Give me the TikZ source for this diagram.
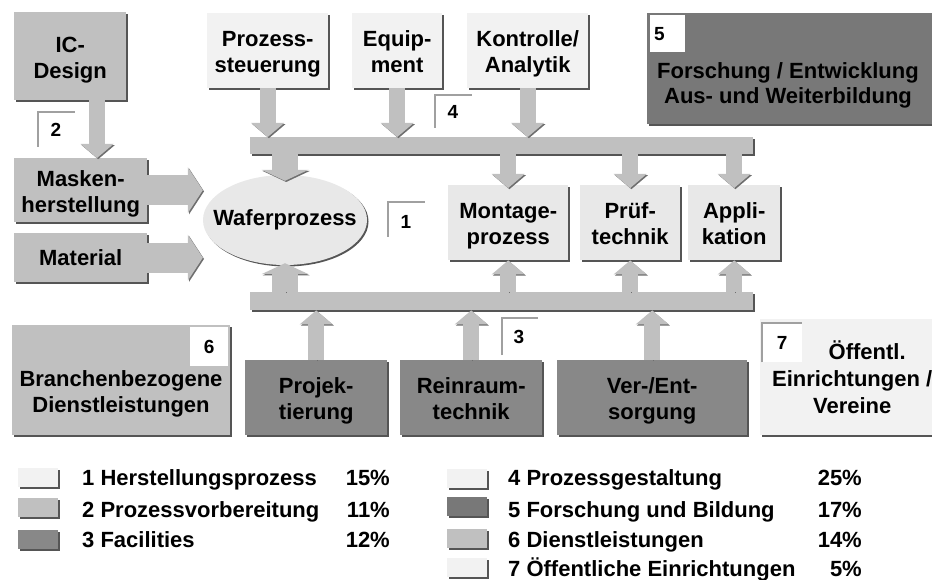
\documentclass[tikz,border=0pt]{standalone}
\usepackage{fontspec}
\setmainfont{Liberation Sans}
\usetikzlibrary{arrows.meta,positioning,shapes.geometric,shadows}
\definecolor{pale}{RGB}{242,242,242}
\definecolor{lite}{RGB}{232,232,232}
\definecolor{mid}{RGB}{192,192,192}
\definecolor{dim}{RGB}{136,136,136}
\definecolor{deep}{RGB}{120,120,120}
\definecolor{edge}{RGB}{85,85,85}
\definecolor{arredge}{RGB}{110,110,110}
\definecolor{tick}{RGB}{160,160,160}
% struts that keep two-line labels a little low, as in the original
\newcommand\topstrut{\rule{0pt}{24pt}}
\newcommand\botstrut{\rule[-6pt]{0pt}{6pt}}

\begin{document}
\begin{tikzpicture}[x=1pt, y=-1pt,
  font=\fontsize{22}{26}\selectfont\bfseries,
  box/.style={rectangle, align=center, inner sep=2pt, anchor=north west,
    drop shadow={shadow xshift=1.5pt, shadow yshift=-1.5pt, fill=edge, opacity=1}},
  plain/.style={rectangle, inner sep=0pt, anchor=north west,
    drop shadow={shadow xshift=1.5pt, shadow yshift=-1.5pt, fill=edge, opacity=1}},
  numbox/.style={rectangle, fill=white, anchor=north west, inner sep=0pt,
    font=\fontsize{19}{20}\selectfont\bfseries},
  num/.style={font=\fontsize{19}{20}\selectfont\bfseries},
  tk/.style={draw=tick, line width=1.5pt},
  barr/.style={draw=mid, line width=16pt, -{Triangle[width=33pt,length=14pt,line width=0pt]},
    preaction={draw=arredge, transform canvas={shift={(1.2pt,-1.2pt)}}}},
  harr/.style={barr, line width=30pt, -{Triangle[width=46pt,length=15pt,line width=0pt]}},
  warr/.style={barr, line width=26pt, -{Triangle[width=47pt,length=11pt,line width=0pt]}},
  sw/.style={plain, minimum width=40pt, minimum height=19pt},
  lt/.style={anchor=base west, inner sep=0pt},
  pc/.style={anchor=base east, inner sep=0pt},
]
\fill[white] (0,0) rectangle (932,580);
\useasboundingbox (0,0) rectangle (932,580);

% preparation (2)
\node[box, fill=mid, minimum width=112pt, minimum height=88pt] (ic) at (14,12) {\topstrut IC-\\Design\botstrut};
\node[box, fill=mid, minimum width=133pt, minimum height=64pt] (mask) at (14,158) {\topstrut Masken-\\herstellung\botstrut};
\node[box, fill=mid, minimum width=133pt, minimum height=49pt] (mat) at (14,233) {Material};

% process design (4)
\node[box, fill=pale, minimum width=121pt, minimum height=75pt] (pst) at (207,13) {\topstrut Prozess-\\steuerung\botstrut};
\node[box, fill=pale, minimum width=90pt, minimum height=75pt] (equ) at (352,13) {\topstrut Equip-\\ment\botstrut};
\node[box, fill=pale, minimum width=121pt, minimum height=75pt] (kon) at (467,13) {\topstrut Kontrolle/\\Analytik\botstrut};

% research (5)
\node[plain, fill=deep, minimum width=285pt, minimum height=111pt] (fe) at (647,13) {};
\node[align=center, font=\fontsize{22}{25}\selectfont\bfseries] (fetxt) at (788,85) {Forschung / Entwicklung\\Aus- und Weiterbildung};
\node[numbox, minimum width=35pt, minimum height=37pt, text width=27pt, align=left, inner xsep=4pt] (n5) at (650,15) {5};

% manufacturing (1)
\node[ellipse, fill=lite, minimum width=164pt, minimum height=90pt, inner sep=0pt,
  drop shadow={shadow xshift=1.5pt, shadow yshift=-1.5pt, fill=edge, opacity=1}] (wafer) at (285,220) {};
\node (wtxt) at (wafer.center) {Waferprozess};
\node[box, fill=lite, minimum width=120pt, minimum height=75pt] (mon) at (448,185) {\topstrut Montage-\\prozess\botstrut};
\node[box, fill=lite, minimum width=100pt, minimum height=75pt] (pru) at (580,185) {\topstrut Prüf-\\technik\botstrut};
\node[box, fill=lite, minimum width=92pt, minimum height=75pt] (app) at (688,185) {\topstrut Appli-\\kation\botstrut};

% bars
\node[plain, fill=mid, minimum width=503pt, minimum height=17pt] (topbar) at (250,137) {};
\node[plain, fill=mid, minimum width=503pt, minimum height=18pt] (botbar) at (250,292) {};

% services (6), facilities (3), public (7)
\node[plain, fill=mid, minimum width=218pt, minimum height=110pt] (dl) at (12,325) {};
\node[align=center] (dltxt) at (121,394) {Branchenbezogene\\Dienstleistungen};
\node[numbox, minimum width=38pt, minimum height=39pt] (n6) at (190,327) {6};
\node[box, fill=dim, minimum width=142pt, minimum height=75pt] (pro) at (245,360) {\topstrut Projek-\\tierung\botstrut};
\node[box, fill=dim, minimum width=142pt, minimum height=75pt] (rei) at (400,360) {\topstrut Reinraum-\\technik\botstrut};
\node[box, fill=dim, minimum width=190pt, minimum height=75pt] (ver) at (557,360) {\topstrut Ver-/Ent-\\sorgung\botstrut};
\node[box, fill=pale, minimum width=184pt, minimum height=116pt,
  font=\fontsize{22}{27}\selectfont\bfseries] (oef) at (760,319) {\topstrut\hspace*{30pt}Öffentl.\\Einrichtungen /\\Vereine\botstrut};
\node[numbox, minimum width=40pt, minimum height=39pt] (n7) at (762,323) {7};
\draw[tk] (n7.south west) |- (n7.north east);

% arrows
\draw[barr] (ic.south -| 97,0) -- (mask.north -| 97,0);
\draw[harr] (mask.east) -- (mask.east -| wafer.west);
\draw[harr] (mat.east) -- (mat.east -| wafer.west);
\draw[barr] (pst.south) -- (pst.south |- topbar.north);
\draw[barr] (equ.south) -- (equ.south |- topbar.north);
\draw[barr] (kon.south) -- (kon.south |- topbar.north);
\draw[warr] (topbar.south -| wafer.north) -- ([yshift=-6pt]wafer.north);
\draw[barr] (topbar.south -| mon.north) -- ([yshift=-3pt]mon.north);
\draw[barr] (topbar.south -| pru.north) -- ([yshift=-3pt]pru.north);
\draw[barr] (topbar.south -| app.north) -- ([yshift=-3pt]app.north);
\draw[warr] (botbar.north -| wafer.south) -- ([yshift=2pt]wafer.south);
\draw[barr] (botbar.north -| mon.south) -- (mon.south);
\draw[barr] (botbar.north -| pru.south) -- (pru.south);
\draw[barr] (botbar.north -| app.south) -- (app.south);
\draw[barr] (pro.north) -- (pro.north |- botbar.south);
\draw[barr] (rei.north) -- (rei.north |- botbar.south);
\draw[barr] (ver.north) -- (ver.north |- botbar.south);

% number ticks
\node[num] (n1) at (406,222) {1};
\draw[tk] (388,237) |- (425,202);
\node[num] (n2) at (56,130) {2};
\draw[tk] (38,147) |- (75,112);
\node[num] (n3) at (519,337) {3};
\draw[tk] (502,355) |- (538,318);
\node[num] (n4) at (453,112) {4};
\draw[tk] (435,128) |- (472,95);

% legend
\node[sw, fill=pale] (s1) at (18,468) {};
\node[sw, fill=mid] (s2) at (18,498) {};
\node[sw, fill=dim] (s3) at (18,530) {};
\node[lt] (t1) at (82,485) {1 Herstellungsprozess};
\node[lt] (t2) at (82,517) {2 Prozessvorbereitung};
\node[lt] (t3) at (82,547) {3 Facilities};
\node[pc] (p1) at (390,485) {15\%};
\node[pc] (p2) at (390,517) {11\%};
\node[pc] (p3) at (390,547) {12\%};
\node[sw, fill=pale] (s4) at (447,469) {};
\node[sw, fill=deep] (s5) at (447,497) {};
\node[sw, fill=mid] (s6) at (447,529) {};
\node[sw, fill=pale] (s7) at (447,558) {};
\node[lt] (t4) at (508,485) {4 Prozessgestaltung};
\node[lt] (t5) at (508,517) {5 Forschung und Bildung};
\node[lt] (t6) at (508,547) {6 Dienstleistungen};
\node[lt] (t7) at (508,576) {7 Öffentliche Einrichtungen};
\node[pc] (p4) at (862,485) {25\%};
\node[pc] (p5) at (862,517) {17\%};
\node[pc] (p6) at (862,547) {14\%};
\node[pc] (p7) at (862,576) {5\%};
\end{tikzpicture}
\end{document}
